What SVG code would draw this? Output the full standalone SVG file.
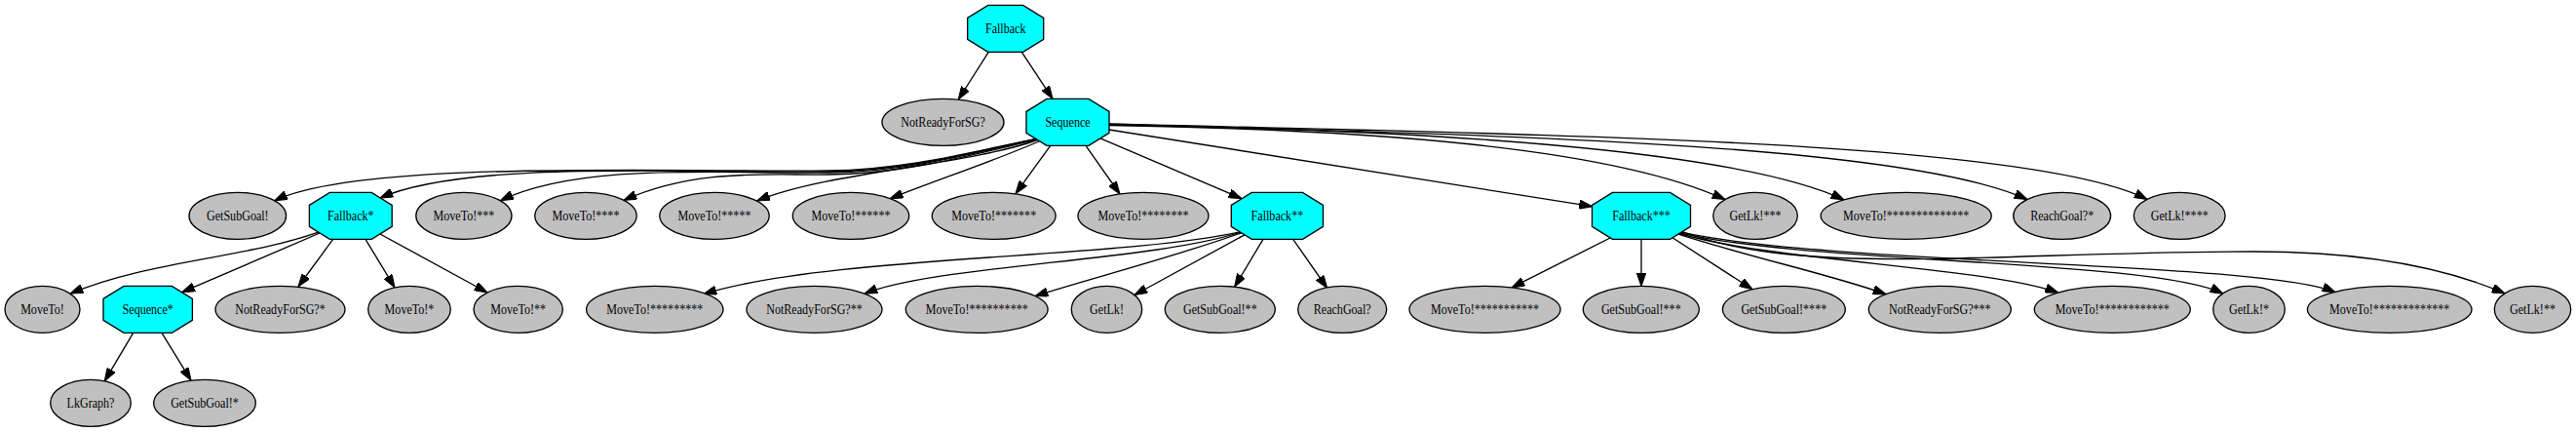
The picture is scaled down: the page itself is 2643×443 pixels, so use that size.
<svg xmlns="http://www.w3.org/2000/svg" width="2643" height="443" viewBox="0 0 2643 443">
<style>
.el{fill:#c0c0c0;stroke:#000;stroke-width:1.33}
.oc{fill:#00ffff;stroke:#000;stroke-width:1.33}
.t{font-family:"Liberation Serif","Times New Roman",serif;font-size:15.5px;text-anchor:middle;fill:#000}
.e{fill:none;stroke:#000;stroke-width:1.33;marker-end:url(#arr)}
</style>
<defs>
<marker id="arr" viewBox="0 0 10 7" refX="10" refY="3.5" markerWidth="13.33" markerHeight="9.33" markerUnits="userSpaceOnUse" orient="auto">
<path d="M0,0 L10,3.5 L0,7 z" fill="#000" stroke="#000" stroke-width="0.8"/>
</marker>
</defs>
<rect width="2643" height="443" fill="#fff"/>
<g id="edges">
<path class="e" d="M1014.3,53.3 L983.3,102"/>
<path class="e" d="M1048.3,53.3 L1080,101.3"/>
<path class="e" d="M1063,142.3 C1000,155 930,174 850,175 C700,177 371.7,163 281.7,205.8"/>
<path class="e" d="M1063,142.5 C1000,156 930,175 850,176 C720,178 480,163 390,203"/>
<path class="e" d="M1063.5,142.8 C1000,157 930,176 850,177 C750,179 598,165 513.3,205.8"/>
<path class="e" d="M1064,143.2 C1000,158 930,178 850,179 C790,180 715,172 640,205.4"/>
<path class="e" d="M1064.5,143.5 C990,170 850,176 776.7,206"/>
<path class="e" d="M1066,145 C1020,165 960,185 913.3,203.6"/>
<path class="e" d="M1077.7,149.3 L1042,198.6"/>
<path class="e" d="M1114,149.3 L1149,199"/>
<path class="e" d="M1129,141.9 L1274,203.7"/>
<path class="e" d="M1138,133 L1633.5,211.7"/>
<path class="e" d="M1138,128.5 C1400,133 1650,150 1770,204.6"/>
<path class="e" d="M1138,128 C1450,133 1780,152 1892,204.9"/>
<path class="e" d="M1138,127.5 C1500,138 1950,145 2080,204.6"/>
<path class="e" d="M1138,127 C1550,138 2080,142 2203,204.4"/>
<path class="e" d="M326.7,238.1 C250,265 150,268 72,301.2"/>
<path class="e" d="M328,239 L186.7,299.7"/>
<path class="e" d="M341.7,245.3 L306,294"/>
<path class="e" d="M375,245.3 L405,294.9"/>
<path class="e" d="M390,240 L500,300"/>
<path class="e" d="M136.7,341.3 L107.3,390.8"/>
<path class="e" d="M166,341.3 L196,390.2"/>
<path class="e" d="M1326.7,245.3 L1361.7,295.5"/>
<path class="e" d="M1296,245.3 L1266.7,294.2"/>
<path class="e" d="M1277,240.8 L1164,302.5"/>
<path class="e" d="M1273.5,238.8 C1200,265 1120,285 1062,303.6"/>
<path class="e" d="M1272.5,238.2 C1180,268 960,272 887,301.2"/>
<path class="e" d="M1272,237.9 C1150,265 850,262 722,301.5"/>
<path class="e" d="M1652,244 L1551,294.9"/>
<path class="e" d="M1684,245.3 L1684,293.3"/>
<path class="e" d="M1716,243.8 L1798,296.7"/>
<path class="e" d="M1722,240.1 C1800,265 1880,282 1935,301.7"/>
<path class="e" d="M1723,239.5 C1820,268 2040,274 2111.7,300.1"/>
<path class="e" d="M1724,238.8 C1850,270 2210,266 2281,301.2"/>
<path class="e" d="M1725,238.2 C1880,272 2320,268 2396,299.6"/>
<path class="e" d="M1726,237.5 C1850,285 2050,258 2313,258 C2430,258 2510,275 2570,300.9"/>
</g>
<g id="n_fallback"><polygon class="oc" points="992.7,18.33 1013.7,5.33 1049.7,5.33 1070.7,18.33 1070.7,40.33 1049.7,53.33 1013.7,53.33 992.7,40.33"/><text class="t" transform="translate(1031.7,33.8) scale(0.78,1)">Fallback</text></g>
<g id="n_notready"><ellipse class="el" cx="967.5" cy="125.33" rx="62.5" ry="24"/><text class="t" transform="translate(967.5,129.8) scale(0.78,1)">NotReadyForSG?</text></g>
<g id="n_sequence"><polygon class="oc" points="1053,114.33 1074,101.33 1117,101.33 1138,114.33 1138,136.33 1117,149.33 1074,149.33 1053,136.33"/><text class="t" transform="translate(1095.5,129.8) scale(0.78,1)">Sequence</text></g>
<g id="n_getsubgoal"><ellipse class="el" cx="243.8" cy="221.33" rx="49.8" ry="24"/><text class="t" transform="translate(243.8,225.8) scale(0.78,1)">GetSubGoal!</text></g>
<g id="n_fallback1"><polygon class="oc" points="317.4,210.33 338.4,197.33 381.2,197.33 402.2,210.33 402.2,232.33 381.2,245.33 338.4,245.33 317.4,232.33"/><text class="t" transform="translate(359.8,225.8) scale(0.78,1)">Fallback*</text></g>
<g id="n_moveto3"><ellipse class="el" cx="475.9" cy="221.33" rx="49.1" ry="24"/><text class="t" transform="translate(475.9,225.8) scale(0.78,1)">MoveTo!***</text></g>
<g id="n_moveto4"><ellipse class="el" cx="601" cy="221.33" rx="52.2" ry="24"/><text class="t" transform="translate(601,225.8) scale(0.78,1)">MoveTo!****</text></g>
<g id="n_moveto5"><ellipse class="el" cx="733" cy="221.33" rx="56.2" ry="24"/><text class="t" transform="translate(733,225.8) scale(0.78,1)">MoveTo!*****</text></g>
<g id="n_moveto6"><ellipse class="el" cx="873" cy="221.33" rx="59.7" ry="24"/><text class="t" transform="translate(873,225.8) scale(0.78,1)">MoveTo!******</text></g>
<g id="n_moveto7"><ellipse class="el" cx="1019.7" cy="221.33" rx="63.4" ry="24"/><text class="t" transform="translate(1019.7,225.8) scale(0.78,1)">MoveTo!*******</text></g>
<g id="n_moveto8"><ellipse class="el" cx="1173" cy="221.33" rx="67" ry="24"/><text class="t" transform="translate(1173,225.8) scale(0.78,1)">MoveTo!********</text></g>
<g id="n_fallback2"><polygon class="oc" points="1263.3,210.33 1284.3,197.33 1336.5,197.33 1357.5,210.33 1357.5,232.33 1336.5,245.33 1284.3,245.33 1263.3,232.33"/><text class="t" transform="translate(1310.4,225.8) scale(0.78,1)">Fallback**</text></g>
<g id="n_fallback3"><polygon class="oc" points="1633.5,210.33 1654.5,197.33 1713.5,197.33 1734.5,210.33 1734.5,232.33 1713.5,245.33 1654.5,245.33 1633.5,232.33"/><text class="t" transform="translate(1684,225.8) scale(0.78,1)">Fallback***</text></g>
<g id="n_getlk3"><ellipse class="el" cx="1801" cy="221.33" rx="43.3" ry="24"/><text class="t" transform="translate(1801,225.8) scale(0.78,1)">GetLk!***</text></g>
<g id="n_moveto14"><ellipse class="el" cx="1955.7" cy="221.33" rx="87.6" ry="24"/><text class="t" transform="translate(1955.7,225.8) scale(0.78,1)">MoveTo!**************</text></g>
<g id="n_reachgoal1"><ellipse class="el" cx="2115.7" cy="221.33" rx="49.9" ry="24"/><text class="t" transform="translate(2115.7,225.8) scale(0.78,1)">ReachGoal?*</text></g>
<g id="n_getlk4"><ellipse class="el" cx="2236.2" cy="221.33" rx="46.9" ry="24"/><text class="t" transform="translate(2236.2,225.8) scale(0.78,1)">GetLk!****</text></g>
<g id="n_moveto0"><ellipse class="el" cx="43.5" cy="317.33" rx="38.5" ry="24"/><text class="t" transform="translate(43.5,321.8) scale(0.78,1)">MoveTo!</text></g>
<g id="n_sequence1"><polygon class="oc" points="106,306.33 127,293.33 176.4,293.33 197.4,306.33 197.4,328.33 176.4,341.33 127,341.33 106,328.33"/><text class="t" transform="translate(151.7,321.8) scale(0.78,1)">Sequence*</text></g>
<g id="n_notready1"><ellipse class="el" cx="287.5" cy="317.33" rx="66.5" ry="24"/><text class="t" transform="translate(287.5,321.8) scale(0.78,1)">NotReadyForSG?*</text></g>
<g id="n_moveto1"><ellipse class="el" cx="420" cy="317.33" rx="42.3" ry="24"/><text class="t" transform="translate(420,321.8) scale(0.78,1)">MoveTo!*</text></g>
<g id="n_moveto2"><ellipse class="el" cx="531.7" cy="317.33" rx="45.7" ry="24"/><text class="t" transform="translate(531.7,321.8) scale(0.78,1)">MoveTo!**</text></g>
<g id="n_moveto9"><ellipse class="el" cx="671.8" cy="317.33" rx="70.2" ry="24"/><text class="t" transform="translate(671.8,321.8) scale(0.78,1)">MoveTo!*********</text></g>
<g id="n_notready2"><ellipse class="el" cx="835.5" cy="317.33" rx="69.5" ry="24"/><text class="t" transform="translate(835.5,321.8) scale(0.78,1)">NotReadyForSG?**</text></g>
<g id="n_moveto10"><ellipse class="el" cx="1002.2" cy="317.33" rx="72.9" ry="24"/><text class="t" transform="translate(1002.2,321.8) scale(0.78,1)">MoveTo!**********</text></g>
<g id="n_getlk"><ellipse class="el" cx="1135.5" cy="317.33" rx="36.2" ry="24"/><text class="t" transform="translate(1135.5,321.8) scale(0.78,1)">GetLk!</text></g>
<g id="n_getsubgoal2"><ellipse class="el" cx="1251.8" cy="317.33" rx="56.5" ry="24"/><text class="t" transform="translate(1251.8,321.8) scale(0.78,1)">GetSubGoal!**</text></g>
<g id="n_reachgoal"><ellipse class="el" cx="1377.2" cy="317.33" rx="45.5" ry="24"/><text class="t" transform="translate(1377.2,321.8) scale(0.78,1)">ReachGoal?</text></g>
<g id="n_moveto11"><ellipse class="el" cx="1523.5" cy="317.33" rx="77.5" ry="24"/><text class="t" transform="translate(1523.5,321.8) scale(0.78,1)">MoveTo!***********</text></g>
<g id="n_getsubgoal3"><ellipse class="el" cx="1683.8" cy="317.33" rx="59.5" ry="24"/><text class="t" transform="translate(1683.8,321.8) scale(0.78,1)">GetSubGoal!***</text></g>
<g id="n_getsubgoal4"><ellipse class="el" cx="1830.3" cy="317.33" rx="63" ry="24"/><text class="t" transform="translate(1830.3,321.8) scale(0.78,1)">GetSubGoal!****</text></g>
<g id="n_notready3"><ellipse class="el" cx="1990.3" cy="317.33" rx="73" ry="24"/><text class="t" transform="translate(1990.3,321.8) scale(0.78,1)">NotReadyForSG?***</text></g>
<g id="n_moveto12"><ellipse class="el" cx="2167.3" cy="317.33" rx="80" ry="24"/><text class="t" transform="translate(2167.3,321.8) scale(0.78,1)">MoveTo!************</text></g>
<g id="n_getlk1"><ellipse class="el" cx="2307.5" cy="317.33" rx="36.8" ry="24"/><text class="t" transform="translate(2307.5,321.8) scale(0.78,1)">GetLk!*</text></g>
<g id="n_moveto13"><ellipse class="el" cx="2451.7" cy="317.33" rx="84.3" ry="24"/><text class="t" transform="translate(2451.7,321.8) scale(0.78,1)">MoveTo!*************</text></g>
<g id="n_getlk2"><ellipse class="el" cx="2598.5" cy="317.33" rx="39.2" ry="24"/><text class="t" transform="translate(2598.5,321.8) scale(0.78,1)">GetLk!**</text></g>
<g id="n_lkgraph"><ellipse class="el" cx="93" cy="413.33" rx="41.3" ry="24"/><text class="t" transform="translate(93,417.8) scale(0.78,1)">LkGraph?</text></g>
<g id="n_getsubgoal1"><ellipse class="el" cx="210" cy="413.33" rx="52.3" ry="24"/><text class="t" transform="translate(210,417.8) scale(0.78,1)">GetSubGoal!*</text></g>
</svg>
